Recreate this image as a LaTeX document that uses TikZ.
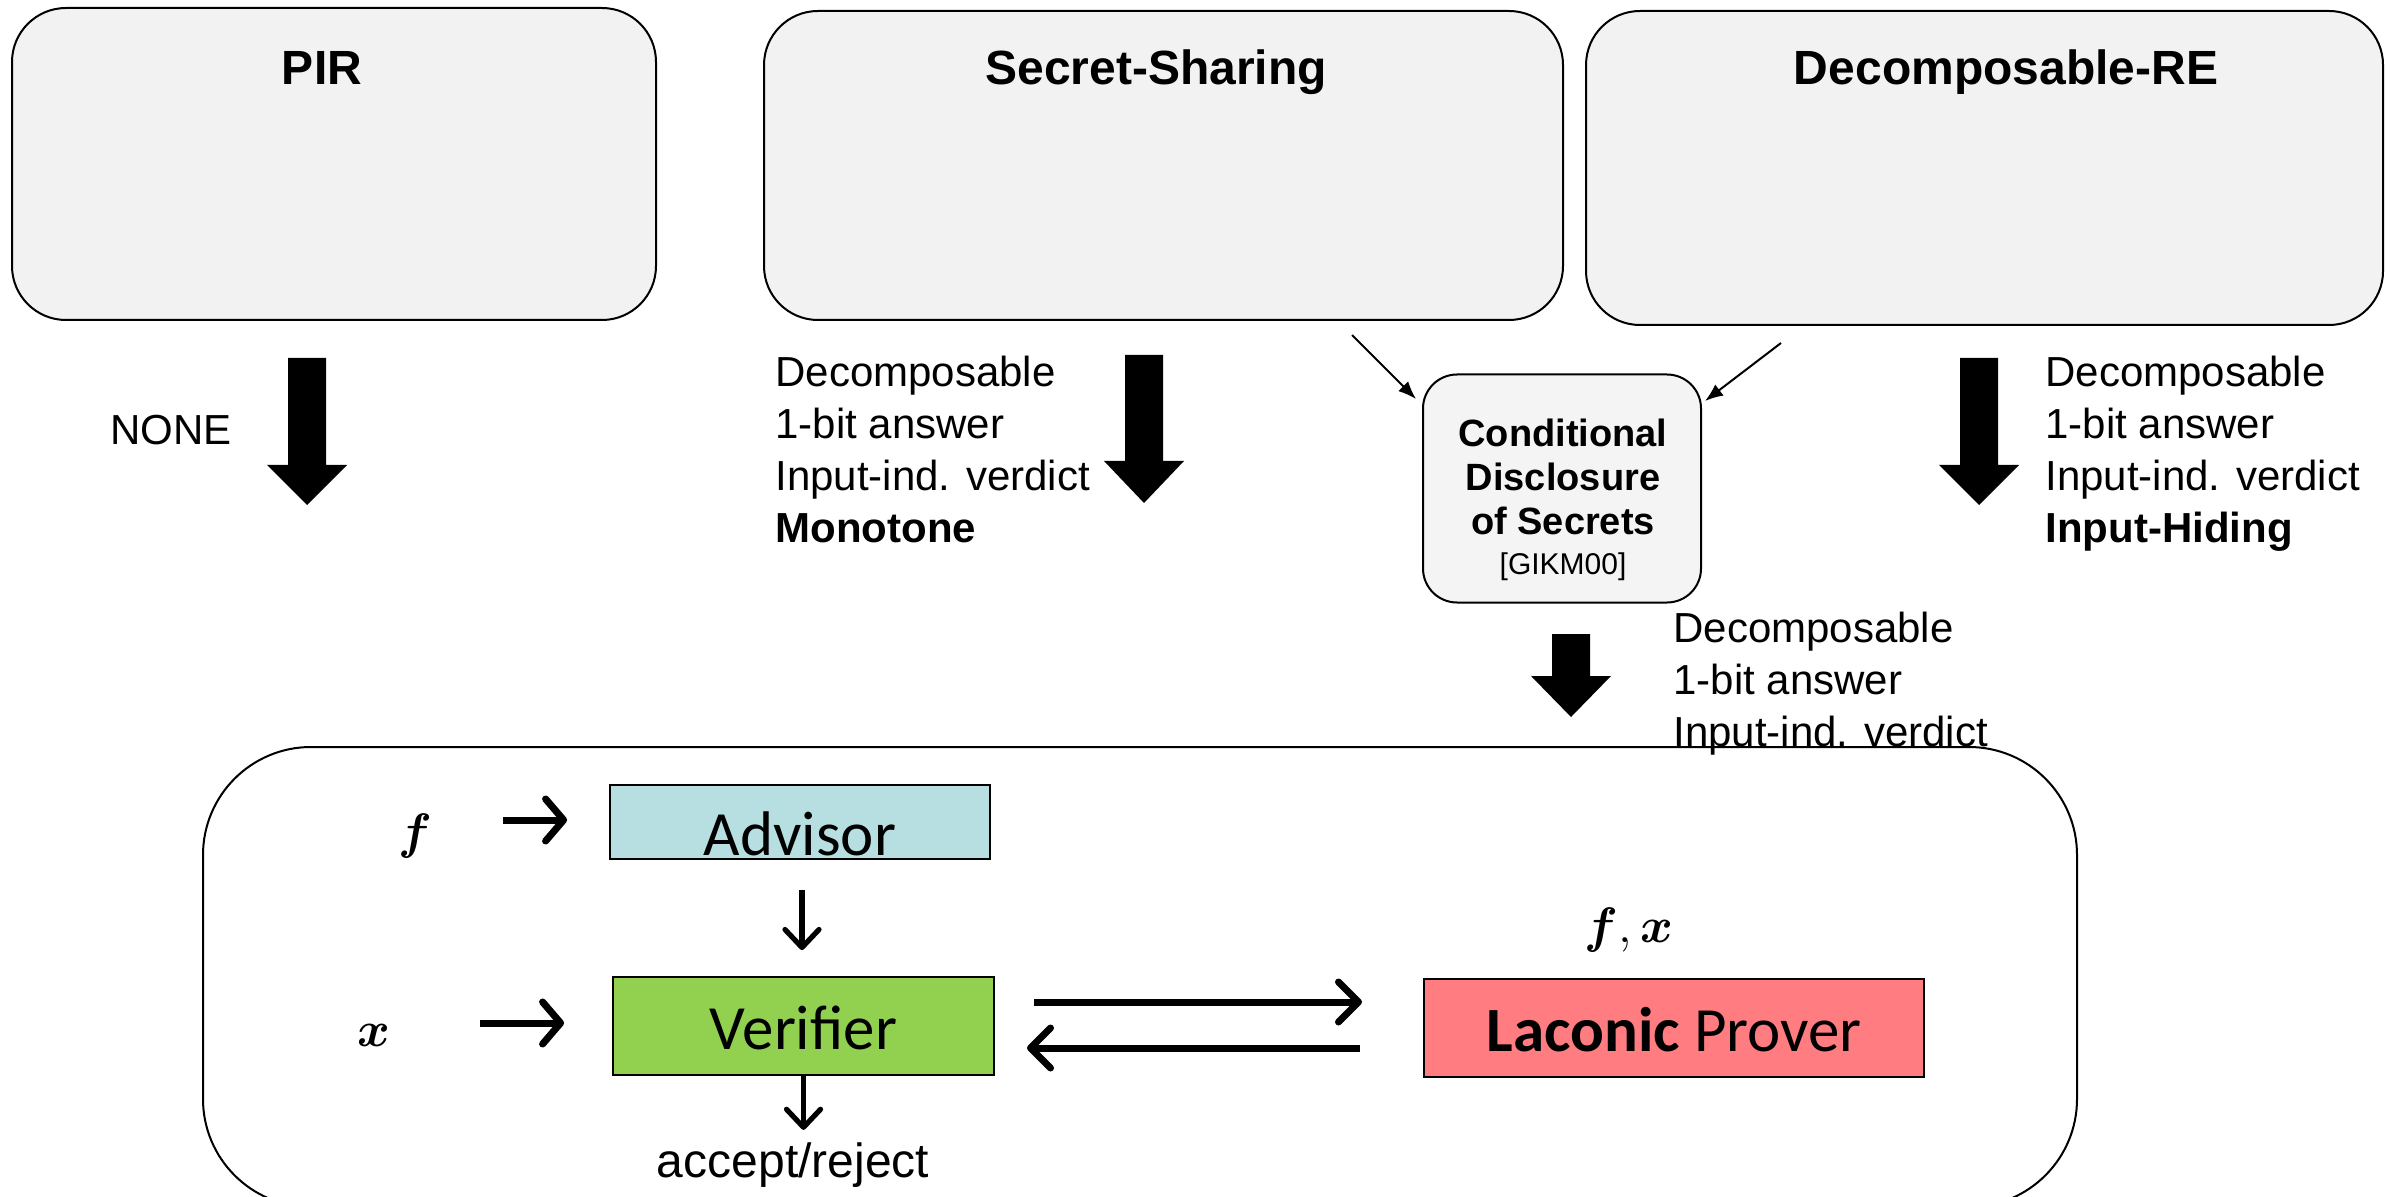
\documentclass[tikz,border=0pt]{standalone}
\usepackage{fontspec}
\setmainfont{Liberation Sans}
\newfontfamily\calibri{Carlito}
\usepackage{amsmath}
\usepackage{bm}
\usetikzlibrary{arrows.meta}

\definecolor{boxgray}{HTML}{F2F2F2}
\definecolor{cdsgray}{HTML}{F4F4F4}
\definecolor{advblue}{HTML}{B7DFE1}
\definecolor{vergreen}{HTML}{92D050}
\definecolor{provred}{HTML}{FF7C80}

% block arrow: centre x, top y, start of head y, tip y
\newcommand\bigdownarrow[4]{%
  \fill[black] (#1-19,#2) -- (#1+19,#2) -- (#1+19,#3) -- (#1+40,#3)
    -- (#1,#4) -- (#1-40,#3) -- (#1-19,#3) -- cycle;}

\begin{document}
\begin{tikzpicture}[x=0.5pt, y=-0.5pt,
  topbox/.style={draw=black, line width=1pt, fill=boxgray, rounded corners=27pt,
    inner sep=0pt},
  cdsbox/.style={draw=black, line width=1pt, fill=cdsgray, rounded corners=17pt,
    inner sep=0pt, minimum width=139pt, minimum height=114pt},
  title/.style={font=\fontsize{24}{28}\selectfont\bfseries, anchor=base, inner sep=0pt},
  note/.style={font=\fontsize{21}{26}\selectfont, align=left, anchor=north west, inner sep=0pt},
  rolebox/.style={draw=black, line width=0.9pt, inner sep=0pt, text depth=0pt,
    font=\calibri\fontsize{31.5}{36}\selectfont},
  mathlabel/.style={font=\fontsize{25}{28}\selectfont, inner sep=0pt},
  thinarrow/.style={line width=1pt, -{Latex[length=9pt, width=7pt]}},
  flowarrow/.style={line width=3.5pt, -{Straight Barb[length=9pt, width=21pt, round]}},
  linkarrow/.style={line width=2.6pt, -{Straight Barb[length=9pt, width=17pt, round]}},
  msgarrow/.style={line width=3.5pt, -{Straight Barb[length=10pt, width=20pt, round]}},
]
\useasboundingbox (0,0) rectangle (2391,1197);

% the three primitives
\node[topbox, minimum width=322pt, minimum height=156pt] (pir) at (334,164) {};
\node[topbox, minimum width=399.5pt, minimum height=154.5pt] (ss) at (1163.5,165.5) {};
\node[topbox, minimum width=398.5pt, minimum height=157pt] (dre) at (1984.5,168) {};
\node[title] (pirtitle) at (322,85) {PIR};
\node[title] (sstitle) at (1156,85) {Secret-Sharing};
\node[title] (dretitle) at (2006,85) {Decomposable-RE};

% implications from the primitives
\bigdownarrow{307}{358}{465}{505}
\bigdownarrow{1144}{355}{461}{503}
\bigdownarrow{1979}{358}{465}{505}
\node[font=\fontsize{21}{26}\selectfont, anchor=west, inner sep=0pt] (none) at (110,430) {NONE};
\node[note] (ssnote) at (775,356) {Decomposable\\1-bit answer\\Input-ind. verdict\\\textbf{Monotone}};
\node[note] (drenote) at (2045,356) {Decomposable\\1-bit answer\\Input-ind. verdict\\\textbf{Input-Hiding}};

% conditional disclosure of secrets
\node[cdsbox] (cds) at (1562,488.5) {};
\node[font=\fontsize{19}{22}\selectfont, align=center, anchor=north, inner sep=0pt] (cdstext) at (1563,419)
  {\textbf{Conditional}\\\textbf{Disclosure}\\\textbf{of Secrets}\\[-2pt]{\fontsize{15}{18}\selectfont[GIKM00]}};
\coordinate (ssout) at (1352,335);
\coordinate (cdsinl) at (1416,399);
\coordinate (dreout) at (1781,343);
\coordinate (cdsinr) at (1705,401);
\draw[thinarrow] (ssout) -- (cdsinl);
\draw[thinarrow] (dreout) -- (cdsinr);
\bigdownarrow{1571}{634}{676}{717}
\node[note] (cdsnote) at (1673,612) {Decomposable\\1-bit answer\\Input-ind. verdict};

% the laconic argument
\node[draw=black, line width=1pt, rounded corners=54pt, minimum width=937pt, minimum height=230pt,
  inner sep=0pt] (frame) at (1140,977) {};
\node[rolebox, fill=advblue, minimum width=190pt, minimum height=37pt, text height=33pt] (adv) at (800,822) {Advisor};
\node[rolebox, fill=vergreen, minimum width=190.5pt, minimum height=49pt, text height=23pt] (ver) at (803.5,1026) {Verifier};
\node[rolebox, fill=provred, minimum width=250pt, minimum height=49pt, text height=23pt] (prov) at (1674,1028) {\textbf{Laconic} Prover};

\node[mathlabel] (fin) at (415,836) {$\bm{f}$};
\node[mathlabel] (xin) at (374,1035) {$\bm{x}$};
\node[mathlabel] (fx) at (1629,930) {$\bm{f},\bm{x}$};

\coordinate (fstart) at (503,820);
\coordinate (xstart) at (480,1023);
\draw[flowarrow] (fstart) -- ([xshift=-21pt]adv.west |- fstart);
\draw[flowarrow] (xstart) -- ([xshift=-24pt]ver.west |- xstart);

\coordinate (advout) at ([xshift=1pt,yshift=-15pt]adv.south);
\draw[linkarrow] (advout) -- ([yshift=13pt]ver.north -| advout);

\coordinate (vertoprov) at (1034,1002);
\coordinate (provtip) at (1362,1002);
\coordinate (provtover) at (1360,1048);
\coordinate (vertip) at (1027,1048);
\draw[msgarrow] (vertoprov) -- (provtip);
\draw[msgarrow] (provtover) -- (vertip);

\node[font=\fontsize{24}{28}\selectfont, anchor=base, inner sep=0pt] (verdict) at (793,1177) {accept/reject};
\draw[linkarrow] (ver.south) -- ([yshift=-27pt]ver.south);
\end{tikzpicture}
\end{document}
